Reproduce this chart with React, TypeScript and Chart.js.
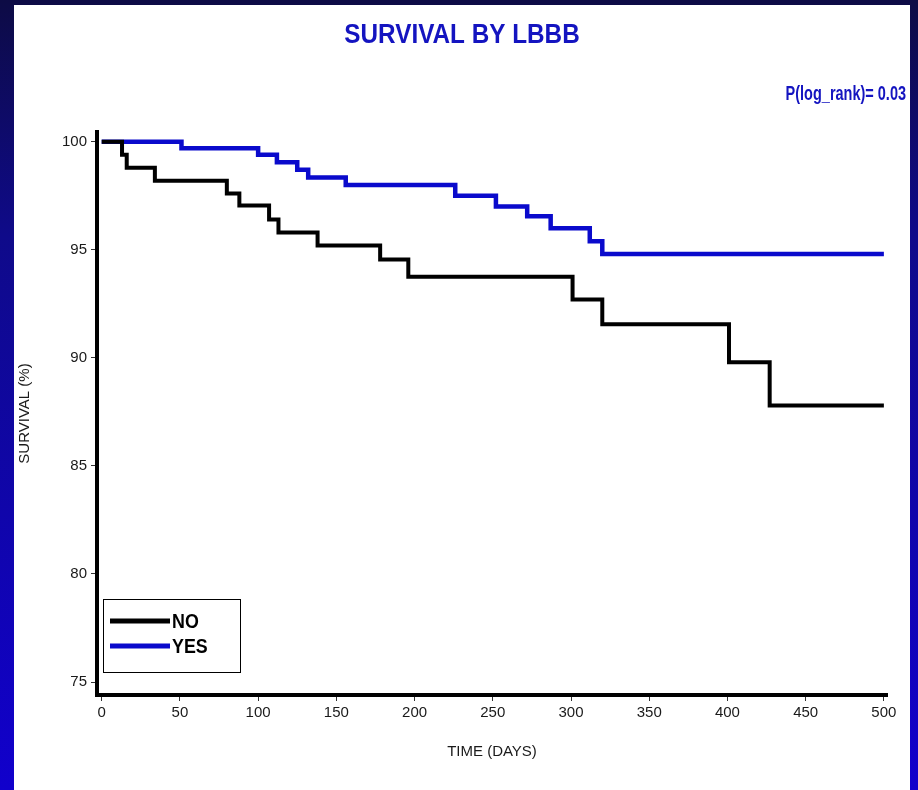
import React, { useEffect, useRef } from 'react';
import { Chart, registerables } from 'chart.js';

Chart.register(...registerables);

// ---- Data ----
const NO_DAYS = [0, 13, 16, 34, 80, 88, 107, 113, 138, 178, 196, 301, 320, 401, 427, 500];
const NO_SURV = [100, 99.4, 98.8, 98.2, 97.6, 97.05, 96.4, 95.8, 95.2, 94.55, 93.75, 92.7, 91.55, 89.8, 87.8, 87.8];
const YES_DAYS = [0, 51, 100, 112, 125, 132, 156, 226, 252, 272, 287, 312, 320, 500];
const YES_SURV = [100, 99.7, 99.4, 99.05, 98.7, 98.35, 98.0, 97.5, 97.0, 96.55, 96.0, 95.4, 94.8, 94.8];
const SERIES_LABELS = ['NO', 'YES'];
const SERIES_COLORS = ['#000000', '#0a0acc'];
const X_TICKS = [0, 50, 100, 150, 200, 250, 300, 350, 400, 450, 500];
const Y_TICKS = [75, 80, 85, 90, 95, 100];
const TITLE = 'SURVIVAL BY LBBB';
const PVALUE_TEXT = 'P(log_rank)= 0.03';
const X_TITLE = 'TIME (DAYS)';
const Y_TITLE = 'SURVIVAL (%)';

const W = 918;
const H = 790;

function drawText(ctx: CanvasRenderingContext2D, text: string, x: number, y: number, font: string, color: string, sx: number, align: CanvasTextAlign) {
  ctx.save();
  ctx.font = font;
  ctx.fillStyle = color;
  ctx.textBaseline = 'middle';
  ctx.textAlign = align;
  ctx.translate(x, y);
  ctx.scale(sx, 1);
  ctx.fillText(text, 0, 0);
  ctx.restore();
}

const backgroundPlugin = {
  id: 'slideBackground',
  beforeDraw(chart: any) {
    const ctx = chart.ctx as CanvasRenderingContext2D;
    ctx.save();
    const g = ctx.createLinearGradient(0, 0, 0, H);
    g.addColorStop(0, '#0d0b45');
    g.addColorStop(0.3, '#0f0a8a');
    g.addColorStop(1, '#1100cc');
    ctx.fillStyle = g;
    ctx.fillRect(0, 0, W, H);
    ctx.fillStyle = '#ffffff';
    ctx.fillRect(14, 5, 896, H - 5);
    ctx.restore();
  },
};

const annotationPlugin = {
  id: 'slideAnnotations',
  afterDraw(chart: any) {
    const ctx = chart.ctx as CanvasRenderingContext2D;
    drawText(ctx, TITLE, 462, 36, 'bold 27px "Liberation Sans", Arial, sans-serif', '#1414c0', 0.9, 'center');
    drawText(ctx, PVALUE_TEXT, 906, 94, 'bold 21px "Liberation Sans", Arial, sans-serif', '#1414c0', 0.69, 'right');

    // legend box inside the plot
    const bx = 103.5, by = 599.5, bw = 137, bh = 73;
    ctx.save();
    ctx.fillStyle = '#ffffff';
    ctx.fillRect(bx, by, bw, bh);
    ctx.strokeStyle = '#000000';
    ctx.lineWidth = 1;
    ctx.strokeRect(bx, by, bw, bh);
    chart.data.datasets.forEach((ds: any, i: number) => {
      const y = 621 + i * 25;
      ctx.beginPath();
      ctx.strokeStyle = ds.borderColor;
      ctx.lineWidth = 5;
      ctx.moveTo(110, y);
      ctx.lineTo(170, y);
      ctx.stroke();
      drawText(ctx, ds.label, 172, y + 1, 'bold 21px "Liberation Sans", Arial, sans-serif', '#000000', 0.85, 'left');
    });
    ctx.restore();
  },
};

export default function App() {
  const ref = useRef<HTMLCanvasElement | null>(null);

  useEffect(() => {
    if (!ref.current) return;
    const chart = new Chart(ref.current, {
      type: 'line',
      data: {
        datasets: [
          {
            label: SERIES_LABELS[0],
            data: NO_DAYS.map((d, i) => ({ x: d, y: NO_SURV[i] })),
            borderColor: SERIES_COLORS[0],
            borderWidth: 4,
            stepped: 'before',
            pointRadius: 0,
            fill: false,
            borderCapStyle: 'butt',
            borderJoinStyle: 'miter',
          },
          {
            label: SERIES_LABELS[1],
            data: YES_DAYS.map((d, i) => ({ x: d, y: YES_SURV[i] })),
            borderColor: SERIES_COLORS[1],
            borderWidth: 4.5,
            stepped: 'before',
            pointRadius: 0,
            fill: false,
            borderCapStyle: 'butt',
            borderJoinStyle: 'miter',
          },
        ],
      },
      options: {
        responsive: false,
        animation: false,
        events: [],
        layout: { padding: { left: 0, top: 132, right: 31, bottom: 0 } },
        plugins: {
          legend: { display: false },
          title: { display: false },
          tooltip: { enabled: false },
        },
        scales: {
          x: {
            type: 'linear',
            min: -3,
            max: 502,
            afterFit(scale: any) { scale.height = 95; },
            afterBuildTicks(scale: any) { scale.ticks = X_TICKS.map((v) => ({ value: v })); },
            ticks: {
              autoSkip: false,
              maxRotation: 0,
              padding: 3,
              color: '#1a1a1a',
              font: { family: '"Liberation Sans", Arial, sans-serif', size: 15 },
            },
            grid: { drawOnChartArea: false, drawTicks: true, tickLength: 6, color: '#333333', lineWidth: 1 },
            border: { display: true, color: '#000000', width: 4 },
            title: {
              display: true,
              text: X_TITLE,
              color: '#1a1a1a',
              font: { family: '"Liberation Sans", Arial, sans-serif', size: 15 },
              padding: { top: 0, bottom: 29 },
            },
          },
          y: {
            type: 'linear',
            min: 74.4,
            max: 100.45,
            afterFit(scale: any) { scale.width = 97; },
            afterBuildTicks(scale: any) { scale.ticks = Y_TICKS.map((v) => ({ value: v })); },
            ticks: {
              autoSkip: false,
              padding: 4,
              color: '#1a1a1a',
              font: { family: '"Liberation Sans", Arial, sans-serif', size: 15 },
            },
            grid: { drawOnChartArea: false, drawTicks: true, tickLength: 6, color: '#333333', lineWidth: 1 },
            border: { display: true, color: '#000000', width: 4 },
            title: {
              display: true,
              text: Y_TITLE,
              color: '#1a1a1a',
              font: { family: '"Liberation Sans", Arial, sans-serif', size: 15 },
              padding: { top: 16, bottom: 0 },
            },
          },
        },
      } as any,
      plugins: [backgroundPlugin, annotationPlugin],
    });
    return () => chart.destroy();
  }, []);

  return (
    <div style={{ position: 'absolute', left: 0, top: 0, width: W, height: H, overflow: 'hidden' }}>
      <canvas ref={ref} width={W} height={H} style={{ display: 'block', width: W, height: H }} />
    </div>
  );
}
